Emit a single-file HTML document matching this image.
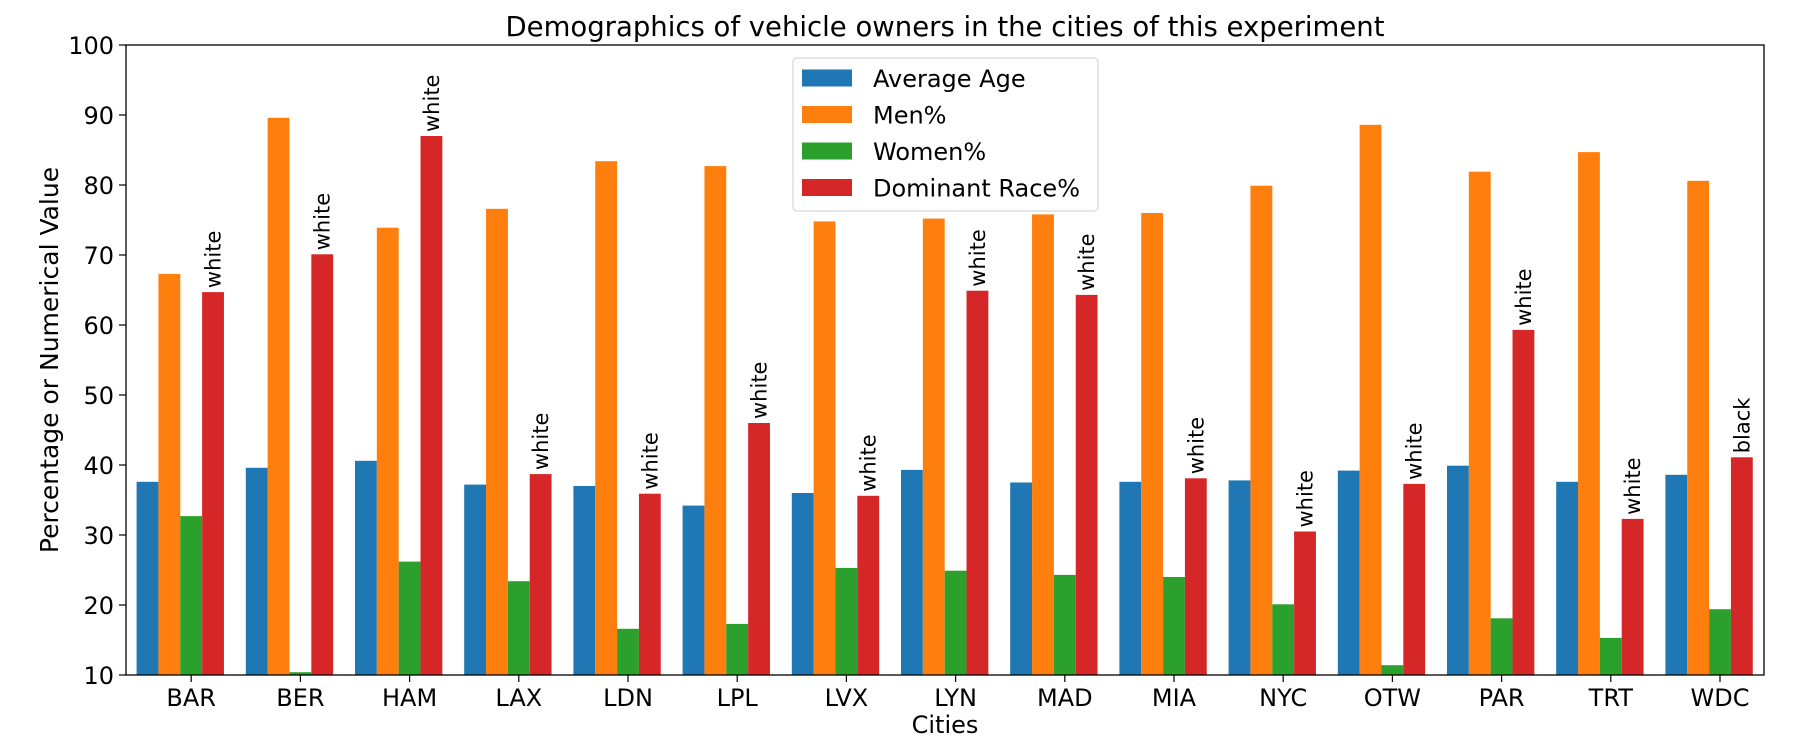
<!DOCTYPE html>
<html><head><meta charset="utf-8"><style>
body{margin:0;background:#fff}
svg{display:block;font-family:"DejaVu Sans","Liberation Sans",sans-serif}
</style></head><body>
<svg id="chart" width="1800" height="750" viewBox="0 0 1800 750">
<text x="945" y="36" font-size="27.5" text-anchor="middle">Demographics of vehicle owners in the cities of this experiment</text>
<g id="bars"></g>
<g id="ann"></g>
<rect x="126" y="45" width="1638" height="630" fill="none" stroke="#000" stroke-width="1.3"/>
<g id="yticks"></g>
<g id="xticks"></g>
<text transform="translate(58,360) rotate(-90)" font-size="25" text-anchor="middle">Percentage or Numerical Value</text>
<text x="945" y="733" font-size="24" text-anchor="middle">Cities</text>
<g>
<rect x="793" y="58" width="305" height="153" rx="4" fill="#fff" fill-opacity="0.8" stroke="#ccc"/>
<g id="legend"></g>
</g>
</svg>
<script>
const cities=["BAR","BER","HAM","LAX","LDN","LPL","LVX","LYN","MAD","MIA","NYC","OTW","PAR","TRT","WDC"];
const seriesNames=["Average Age","Men%","Women%","Dominant Race%"];
const avgAge=[37.6,39.6,40.6,37.2,37.0,34.2,36.0,39.3,37.5,37.6,37.8,39.2,39.9,37.6,38.6];
const menPct=[67.3,89.6,73.9,76.6,83.4,82.7,74.8,75.2,75.8,76.0,79.9,88.6,81.9,84.7,80.6];
const womenPct=[32.7,10.4,26.2,23.4,16.6,17.3,25.3,24.9,24.3,24.0,20.1,11.4,18.1,15.3,19.4];
const racePct=[64.7,70.1,87.0,38.7,35.9,46.0,35.6,64.9,64.3,38.1,30.5,37.3,59.3,32.3,41.1];
const raceLabels=["white","white","white","white","white","white","white","white","white","white","white","white","white","white","black"];
const yTicks=[10,20,30,40,50,60,70,80,90,100];
const colors=["#1f77b4","#ff7f0e","#2ca02c","#d62728"];
const NS="http://www.w3.org/2000/svg";
function X(v){return 191.2+v*109.2;}
function Y(v){return 675-(v-10)*7;}
function mk(t,a,p){const e=document.createElementNS(NS,t);for(const k in a)e.setAttribute(k,a[k]);p.appendChild(e);return e;}
const all=[avgAge,menPct,womenPct,racePct];
const bars=document.getElementById('bars');
all.forEach((s,k)=>{s.forEach((v,i)=>{
 const x0=X(i+(k-2.5)*0.2);
 const r=mk('rect',{x:x0,y:Y(v),width:X(0.2)-X(0),height:Y(10)-Y(v),fill:colors[k]},bars);
 
 
});});
const ann=document.getElementById('ann');
racePct.forEach((v,i)=>{
 const cx=X(i+0.2), cy=Y(v)-4;
 const t=mk('text',{transform:`translate(${cx+7.5},${cy}) rotate(-90)`,'font-size':'21'},ann);
 t.textContent=raceLabels[i];
 
 
});
const yt=document.getElementById('yticks');
yTicks.forEach(v=>{
 mk('line',{x1:119,x2:126,y1:Y(v),y2:Y(v),stroke:'#000','stroke-width':1.2},yt);
 const t=mk('text',{x:114,y:Y(v)+9,'font-size':'24','text-anchor':'end'},yt);
 t.textContent=v;
 
 
});
const xt=document.getElementById('xticks');
cities.forEach((c,i)=>{
 mk('line',{x1:X(i),x2:X(i),y1:675,y2:682,stroke:'#000','stroke-width':1.2},xt);
 const t=mk('text',{x:X(i),y:706,'font-size':'24','text-anchor':'middle'},xt);
 t.textContent=c;
 
 
});
const lg=document.getElementById('legend');
seriesNames.forEach((n,k)=>{
 const cy=78+k*36.5;
 mk('rect',{x:802,y:cy-8.5,width:50,height:17,fill:colors[k]},lg);
 const t=mk('text',{x:873,y:cy+9,'font-size':'24'},lg);
 t.textContent=n;
 
 
});
</script>
</body></html>
